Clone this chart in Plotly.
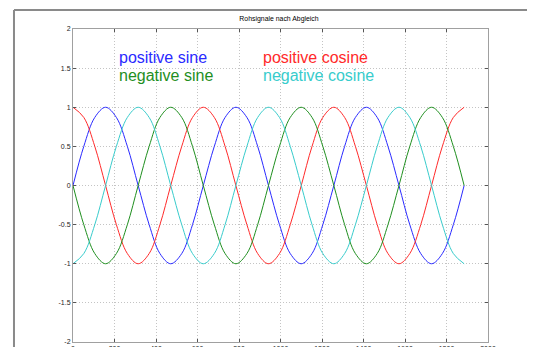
import plotly.graph_objects as go

# sample positions (x) and values
x_vals = [0, 52, 105, 157, 209, 262, 314, 367, 419, 471, 524, 576,
          628, 681, 733, 785, 838, 890, 942, 995, 1047, 1100, 1152, 1204,
          1257, 1309, 1361, 1414, 1466, 1518, 1571, 1623, 1676, 1728, 1780, 1833,
          1885]

pos_sine = [0, 0.5, 0.87, 1, 0.87, 0.5, 0, -0.5, -0.87, -1, -0.87, -0.5,
            0, 0.5, 0.87, 1, 0.87, 0.5, 0, -0.5, -0.87, -1, -0.87, -0.5,
            0, 0.5, 0.87, 1, 0.87, 0.5, 0, -0.5, -0.87, -1, -0.87, -0.5,
            0]
pos_cosine = [1, 0.87, 0.5, 0, -0.5, -0.87, -1, -0.87, -0.5, 0, 0.5, 0.87,
              1, 0.87, 0.5, 0, -0.5, -0.87, -1, -0.87, -0.5, 0, 0.5, 0.87,
              1, 0.87, 0.5, 0, -0.5, -0.87, -1, -0.87, -0.5, 0, 0.5, 0.87,
              1]
neg_sine = [0, -0.5, -0.87, -1, -0.87, -0.5, 0, 0.5, 0.87, 1, 0.87, 0.5,
            0, -0.5, -0.87, -1, -0.87, -0.5, 0, 0.5, 0.87, 1, 0.87, 0.5,
            0, -0.5, -0.87, -1, -0.87, -0.5, 0, 0.5, 0.87, 1, 0.87, 0.5,
            0]
neg_cosine = [-1, -0.87, -0.5, 0, 0.5, 0.87, 1, 0.87, 0.5, 0, -0.5, -0.87,
              -1, -0.87, -0.5, 0, 0.5, 0.87, 1, 0.87, 0.5, 0, -0.5, -0.87,
              -1, -0.87, -0.5, 0, 0.5, 0.87, 1, 0.87, 0.5, 0, -0.5, -0.87,
              -1]

series_names = ["positive sine", "positive cosine", "negative sine", "negative cosine"]
series_colors = ["#2a2aff", "#ff2a2a", "#1f8f1f", "#38cccc"]
series_data = [pos_sine, pos_cosine, neg_sine, neg_cosine]

x_ticks = [0, 200, 400, 600, 800, 1000, 1200, 1400, 1600, 1800, 2000]
y_ticks = [-2, -1.5, -1, -0.5, 0, 0.5, 1, 1.5, 2]
y_tick_text = ["-2", "-1.5", "-1", "-0.5", "0", "0.5", "1", "1.5", "2"]

fig = go.Figure()
for name, col, ys in zip(series_names, series_colors, series_data):
    fig.add_trace(go.Scatter(x=x_vals, y=ys, mode="lines", name=name,
                             line=dict(color=col, width=1, shape="spline"),
                             showlegend=False))

# legend-like text labels
label_pos = [(210, 1.63), (905, 1.63), (210, 1.40), (905, 1.40)]
for name, col, (lx, ly) in zip(series_names, series_colors, label_pos):
    fig.add_annotation(x=lx, y=ly, text=name, showarrow=False, xanchor="left",
                       yanchor="middle", font=dict(family="Liberation Sans, Arial", size=16, color=col))

axis_common = dict(showline=True, linecolor="#a0a0a0", linewidth=1, mirror="ticks",
                   ticks="inside", ticklen=3, tickcolor="#555555",
                   showgrid=True, gridcolor="#c4c4c4", griddash="1px,2px", gridwidth=1,
                   zeroline=False, automargin=False,
                   tickfont=dict(family="Liberation Sans, Arial", size=7, color="#222222"))

fig.update_xaxes(range=[0, 2000], tickvals=x_ticks, **axis_common)
fig.update_yaxes(range=[-2, 2], tickvals=y_ticks, ticktext=y_tick_text, **axis_common)

# window frame lines (page body has an 8px offset)
fig.add_shape(type="line", xref="paper", yref="paper", x0=-0.1422, x1=-0.1422, y0=1.0607, y1=-0.2,
              line=dict(color="#8a8a8a", width=2))
fig.add_shape(type="line", xref="paper", yref="paper", x0=-0.1422, x1=1.3, y0=1.0607, y1=1.0607,
              line=dict(color="#8a8a8a", width=2))

fig.update_layout(
    width=527, height=339,
    margin=dict(l=65, r=47, t=21, b=5),
    paper_bgcolor="white", plot_bgcolor="white",
    title=dict(text="Rohsignale nach Abgleich", x=271/527, xanchor="center",
               y=(339-11)/339, yanchor="middle",
               font=dict(family="Liberation Sans, Arial", size=6.9, color="black")),
)

fig.write_html("out.html")
